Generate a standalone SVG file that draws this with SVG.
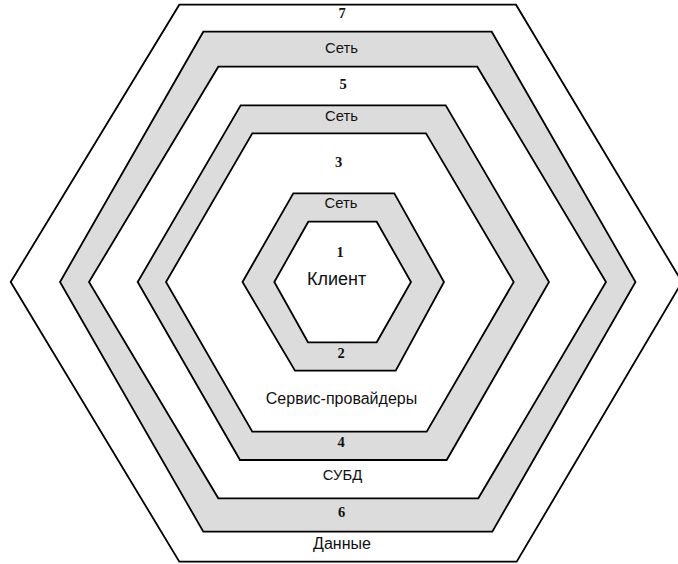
<svg xmlns="http://www.w3.org/2000/svg" width="678" height="564" viewBox="0 0 678 564">
  <style>
    .ring { stroke: #000; stroke-width: 1.8; stroke-linejoin: miter; }
    .white { fill: #fff; }
    .grey { fill: #dcdcdc; }
    .lbl { font-family: "Liberation Sans", Arial, sans-serif; font-size: 14.8px; fill: #111; text-anchor: middle; }
    .wide { font-size: 16px; }
    .big { font-size: 18px; }
    .num { font-family: "Liberation Serif", "Times New Roman", serif; font-weight: bold; font-size: 14.5px; fill: #111; text-anchor: middle; }
  </style>
  <rect width="678" height="564" fill="#fff"/>

  <!-- level 7: outer ring -->
  <g id="ring7">
    <polygon class="ring white" points="179.3,4.7 516,4.7 682,282 516.7,561.7 179.3,561.7 10.7,282"/>
    <text class="num" x="342" y="18">7</text>
    <text class="lbl wide" x="342" y="548.5">Данные</text>
  </g>

  <!-- level 6: network band -->
  <g id="ring6">
    <polygon class="ring grey" points="203.3,31.7 491.7,31.7 635.5,282 492.3,531.7 203.3,531.7 60,282"/>
    <text class="lbl" x="341.5" y="52.7">Сеть</text>
    <text class="num" x="341.5" y="517">6</text>
  </g>

  <!-- level 5 -->
  <g id="ring5">
    <polygon class="ring white" points="218.3,66.7 477.3,66.7 606,282 478.3,498.3 218.3,498.3 89,282"/>
    <text class="num" x="343" y="89">5</text>
    <text class="lbl" x="342.5" y="480">СУБД</text>
  </g>

  <!-- level 4: network band -->
  <g id="ring4">
    <polygon class="ring grey" points="240.7,105.3 445.7,105.3 549,282 446.7,460 240,460 137.7,282"/>
    <text class="lbl" x="341.5" y="121">Сеть</text>
    <text class="num" x="341" y="447">4</text>
  </g>

  <!-- level 3 -->
  <g id="ring3">
    <polygon class="ring white" points="252.3,133.3 426,133.3 513.7,282 426.7,431.7 252.3,431.7 166,282"/>
    <text class="num" x="338.5" y="167">3</text>
    <text class="lbl wide" x="341.5" y="403.5">Сервис-провайдеры</text>
  </g>

  <!-- level 2: network band -->
  <g id="ring2">
    <polygon class="ring grey" points="293.3,193.3 394.3,193.3 444,282 395.7,370.7 295,370.7 242.5,282"/>
    <text class="lbl" x="341" y="208.3">Сеть</text>
    <text class="num" x="341" y="358">2</text>
  </g>

  <!-- level 1: client core -->
  <g id="ring1">
    <polygon class="ring white" points="308.3,221.7 376.7,221.7 411,282 376.7,342.3 308,342.3 274.3,282"/>
    <text class="num" x="340" y="256.5">1</text>
    <text class="lbl big" x="336.7" y="285">Клиент</text>
  </g>
</svg>
